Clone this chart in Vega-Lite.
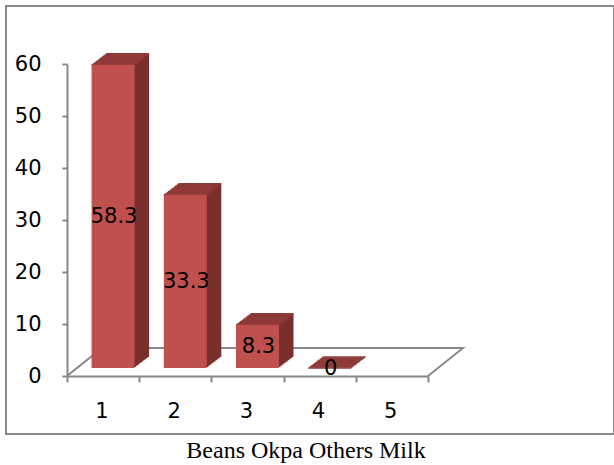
{
  "$schema": "https://vega.github.io/schema/vega-lite/v6.json",
  "width": 608,
  "height": 428,
  "autosize": {"type": "none"},
  "padding": {"left": 6, "top": 6, "right": 0, "bottom": 31},
  "background": "white",
  "config": {
    "view": {"stroke": "#8a8a8a", "strokeWidth": 2},
    "axis": {"labelFont": "DejaVu Sans", "labelColor": "#000000"}
  },
  "title": {
    "text": "Beans Okpa Others Milk",
    "orient": "bottom",
    "anchor": "middle",
    "font": "Liberation Serif",
    "fontSize": 24,
    "fontWeight": "normal",
    "color": "#000000",
    "offset": 5,
    "dx": -4
  },
  "data": {
    "values": [
      {"cat": "1", "value": 58.3},
      {"cat": "2", "value": 33.3},
      {"cat": "3", "value": 8.3},
      {"cat": "4", "value": 0}
    ]
  },
  "resolve": {"scale": {"y": "independent"}},
  "layer": [
    {
      "data": {"values": [{"part": "floor"}]},
      "mark": {"type": "point", "shape": "M0,0 L35,-28 L396,-28 L361,0", "size": 4, "filled": false, "stroke": "#888888", "strokeWidth": 2, "opacity": 1},
      "encoding": {
        "x": {"datum": "1", "bandPosition": 0, "scale": {"domain": ["1", "2", "3", "4", "5"], "range": [61, 422], "paddingInner": 0, "paddingOuter": 0}},
        "y": {"datum": 0, "type": "quantitative", "scale": {"domain": [0, 60], "range": [370, 58], "nice": false}, "axis": null}
      }
    },
    {
      "encoding": {
        "x": {
          "field": "cat",
          "type": "nominal",
          "scale": {"domain": ["1", "2", "3", "4", "5"], "range": [61, 422], "paddingInner": 0, "paddingOuter": 0},
          "axis": {
            "title": null,
            "labelAngle": 0,
            "domain": true,
            "domainColor": "#888888",
            "domainWidth": 2,
            "ticks": true,
            "tickBand": "extent",
            "tickSize": 6,
            "tickWidth": 2,
            "tickColor": "#888888",
            "labelFontSize": 21,
            "labelPadding": 29,
            "labelOffset": 5,
            "offset": -58
          }
        },
        "y": {
          "field": "value",
          "type": "quantitative",
          "scale": {"domain": [0, 60], "range": [370, 58], "nice": false, "zero": true},
          "axis": {
            "title": null,
            "values": [0, 10, 20, 30, 40, 50, 60],
            "grid": false,
            "domain": true,
            "domainColor": "#888888",
            "domainWidth": 2,
            "tickSize": 5,
            "tickWidth": 2,
            "tickColor": "#888888",
            "labelFontSize": 21,
            "labelPadding": 21,
            "offset": -61
          }
        }
      },
      "layer": [
        {"mark": {"type": "bar", "width": 43, "color": "#7b2f2d", "xOffset": 11.45, "x2Offset": 11.45, "yOffset": -9.1, "y2Offset": -9.1}},
        {"mark": {"type": "bar", "width": 43, "color": "#7b2f2d", "xOffset": 12.9, "x2Offset": 12.9, "yOffset": -10.2, "y2Offset": -10.2}},
        {"mark": {"type": "bar", "width": 43, "color": "#7b2f2d", "xOffset": 14.35, "x2Offset": 14.35, "yOffset": -11.3, "y2Offset": -11.3}},
        {"mark": {"type": "bar", "width": 43, "color": "#7b2f2d", "xOffset": 15.8, "x2Offset": 15.8, "yOffset": -12.4, "y2Offset": -12.4}},
        {"mark": {"type": "bar", "width": 43, "color": "#7b2f2d", "xOffset": 17.25, "x2Offset": 17.25, "yOffset": -13.5, "y2Offset": -13.5}},
        {"mark": {"type": "bar", "width": 43, "color": "#7b2f2d", "xOffset": 18.7, "x2Offset": 18.7, "yOffset": -14.6, "y2Offset": -14.6}},
        {"mark": {"type": "bar", "width": 43, "color": "#7b2f2d", "xOffset": 20.15, "x2Offset": 20.15, "yOffset": -15.7, "y2Offset": -15.7}},
        {"mark": {"type": "bar", "width": 43, "color": "#7b2f2d", "xOffset": 21.6, "x2Offset": 21.6, "yOffset": -16.8, "y2Offset": -16.8}},
        {"mark": {"type": "bar", "width": 43, "color": "#7b2f2d", "xOffset": 23.05, "x2Offset": 23.05, "yOffset": -17.9, "y2Offset": -17.9}},
        {"mark": {"type": "bar", "width": 43, "color": "#7b2f2d", "xOffset": 24.5, "x2Offset": 24.5, "yOffset": -19, "y2Offset": -19}},
        {"mark": {"type": "tick", "size": 43, "thickness": 1.6, "color": "#8e3a38", "opacity": 1, "xOffset": 10, "yOffset": -8}},
        {"mark": {"type": "tick", "size": 43, "thickness": 1.6, "color": "#8e3a38", "opacity": 1, "xOffset": 11.45, "yOffset": -9.1}},
        {"mark": {"type": "tick", "size": 43, "thickness": 1.6, "color": "#8e3a38", "opacity": 1, "xOffset": 12.9, "yOffset": -10.2}},
        {"mark": {"type": "tick", "size": 43, "thickness": 1.6, "color": "#8e3a38", "opacity": 1, "xOffset": 14.35, "yOffset": -11.3}},
        {"mark": {"type": "tick", "size": 43, "thickness": 1.6, "color": "#8e3a38", "opacity": 1, "xOffset": 15.8, "yOffset": -12.4}},
        {"mark": {"type": "tick", "size": 43, "thickness": 1.6, "color": "#8e3a38", "opacity": 1, "xOffset": 17.25, "yOffset": -13.5}},
        {"mark": {"type": "tick", "size": 43, "thickness": 1.6, "color": "#8e3a38", "opacity": 1, "xOffset": 18.7, "yOffset": -14.6}},
        {"mark": {"type": "tick", "size": 43, "thickness": 1.6, "color": "#8e3a38", "opacity": 1, "xOffset": 20.15, "yOffset": -15.7}},
        {"mark": {"type": "tick", "size": 43, "thickness": 1.6, "color": "#8e3a38", "opacity": 1, "xOffset": 21.6, "yOffset": -16.8}},
        {"mark": {"type": "tick", "size": 43, "thickness": 1.6, "color": "#8e3a38", "opacity": 1, "xOffset": 23.05, "yOffset": -17.9}},
        {"mark": {"type": "tick", "size": 43, "thickness": 1.6, "color": "#8e3a38", "opacity": 1, "xOffset": 24.5, "yOffset": -19}},
        {"mark": {"type": "bar", "width": 43, "color": "#c0504d", "xOffset": 10, "x2Offset": 10, "yOffset": -8, "y2Offset": -8}}
      ]
    },
    {
      "mark": {"type": "text", "font": "DejaVu Sans", "fontSize": 21, "color": "#000000", "align": "center", "baseline": "middle", "dx": 11, "dy": -7},
      "encoding": {
        "x": {"field": "cat", "type": "nominal"},
        "y": {"field": "value", "type": "quantitative", "scale": {"domain": [0, 120], "range": [370, 58], "nice": false}, "axis": null},
        "text": {"field": "value", "type": "quantitative"}
      }
    }
  ]
}
